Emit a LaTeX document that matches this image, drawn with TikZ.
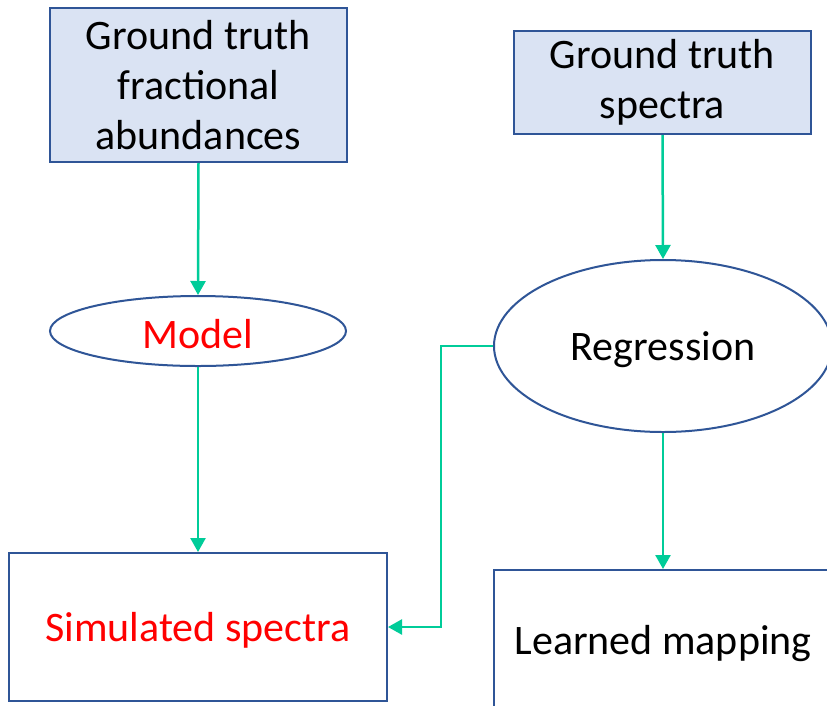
\documentclass[tikz,border=0pt]{standalone}
\usepackage{fontspec}
\setmainfont{Carlito}
\usetikzlibrary{shapes.geometric,arrows.meta}
\definecolor{bordblue}{HTML}{2F5597}
\definecolor{fillblue}{HTML}{DAE3F3}
\definecolor{arrgreen}{HTML}{00CC99}
\newcommand{\lowtxt}[1]{\raisebox{0pt}[\dimexpr\height+7pt\relax]{#1}}
\tikzset{
  txt/.style={font=\fontsize{42}{50}\selectfont, align=center, inner sep=0pt},
  gtbox/.style={draw=bordblue, fill=fillblue, line width=2pt, rectangle, txt},
  wbox/.style={draw=bordblue, fill=white, line width=2pt, rectangle, txt},
  ell/.style={draw=bordblue, fill=white, line width=2pt, ellipse, txt},
  conn/.style={draw=arrgreen, line width=2.5pt, -{Triangle[length=14pt,width=15pt]}},
}
\begin{document}
\begin{tikzpicture}[x=1pt,y=-1pt]
\useasboundingbox (0,0) rectangle (827,705);
\clip (0,0) rectangle (827,705);
\fill[white] (0,0) rectangle (827,705);
\node[gtbox, minimum width=297pt, minimum height=154pt] (gtfa) at (198.5,85) {Ground truth\\fractional\\abundances};
\node[gtbox, minimum width=297pt, minimum height=103pt] (gts) at (662.5,82.5) {Ground truth\\spectra};
\node[ell, minimum width=296pt, minimum height=70pt, text=red] (model) at (198,331) {\lowtxt{Model}};
\node[ell, minimum width=338pt, minimum height=172pt] (regr) at (663,346) {\lowtxt{Regression}};
\node[wbox, minimum width=378pt, minimum height=148pt, text=red] (sim) at (198,627) {\lowtxt{Simulated spectra}};
\node[wbox, minimum width=338pt, minimum height=140pt] (learn) at (663,640) {\lowtxt{Learned mapping}};
\coordinate (bend) at (441,346);
\draw[conn] (gtfa.south) -- (model.north);
\draw[conn] (model.south) -- (sim.north);
\draw[conn] (gts.south) -- (regr.north);
\draw[conn] (regr.south) -- (learn.north);
\draw[conn] (regr.west) -- (bend) |- (sim.east);
\end{tikzpicture}
\end{document}
